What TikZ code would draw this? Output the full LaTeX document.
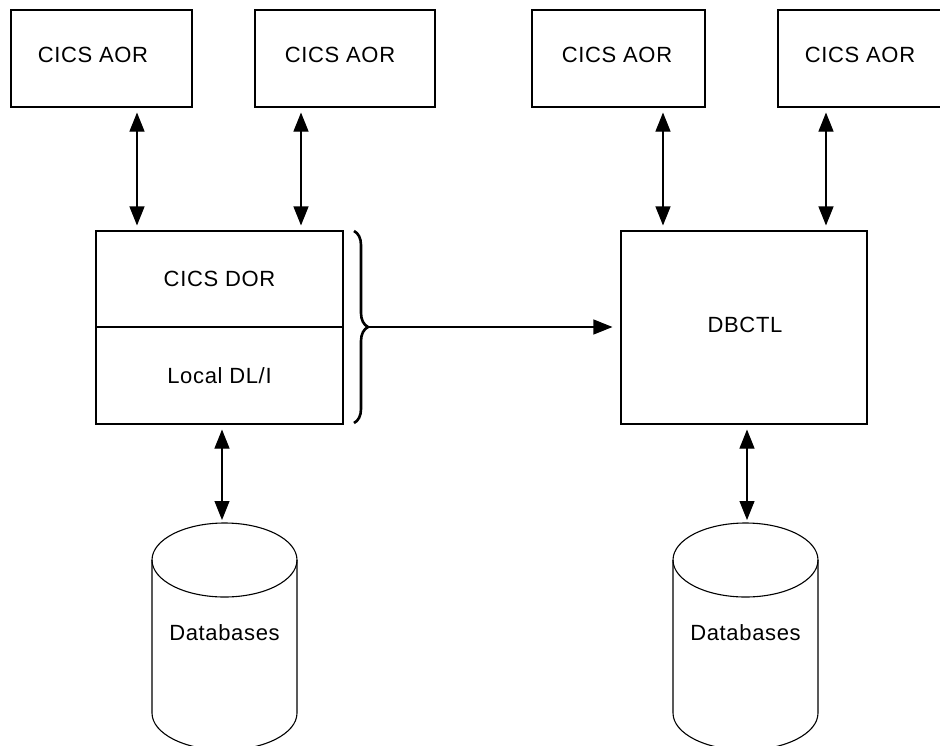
\documentclass[tikz,border=0pt]{standalone}
\usepackage{fontspec}
\setmainfont{Liberation Sans}[LetterSpace=3]
\usetikzlibrary{arrows.meta,decorations.pathreplacing}
\begin{document}
\begin{tikzpicture}[x=1pt,y=-1pt,
  lbl/.style={font=\fontsize{22}{26}\selectfont, inner sep=0pt},
  box/.style={draw, line width=1.1pt, inner sep=0pt, font=\fontsize{22}{26}\selectfont},
  conn/.style={line width=1.1pt, {Triangle[length=19pt,width=15pt]}-{Triangle[length=19pt,width=15pt]}, shorten <=5pt, shorten >=5pt},
  oneway/.style={line width=1.1pt, -{Triangle[length=19pt,width=15pt]}, shorten >=8pt},
  cyl/.style={line width=1.1pt}]
\useasboundingbox (0,0) rectangle (940,745);
% top boxes
\node[box, minimum width=181pt, minimum height=97pt] (aor1) at (101.5,58.5) {};
\node[lbl] (aor1txt) at (93,55) {CICS AOR};
\node[box, minimum width=180pt, minimum height=97pt] (aor2) at (345,58.5) {};
\node[lbl] (aor2txt) at (340,55) {CICS AOR};
\node[box, minimum width=173pt, minimum height=97pt] (aor3) at (618.5,58.5) {};
\node[lbl] (aor3txt) at (617,55) {CICS AOR};
\node[box, minimum width=170pt, minimum height=97pt] (aor4) at (863,58.5) {};
\node[lbl] (aor4txt) at (860,55) {CICS AOR};
% DOR
\node[box, minimum width=247pt, minimum height=96pt] (dor) at (219.5,279) {CICS DOR};
\node[box, minimum width=247pt, minimum height=97pt] (dli) at (219.5,375.5) {Local DL/I};
% DBCTL
\node[box, minimum width=246pt, minimum height=193pt] (dbctl) at (744,327.5) {};
\node[lbl] (dbctltxt) at (745,325) {DBCTL};
% x guides
\coordinate (g1) at (137,0);
\coordinate (g2) at (301,0);
\coordinate (g3) at (663,0);
\coordinate (g4) at (826,0);
% arrows from AORs
\draw[conn] (aor1.south -| g1) -- (dor.north -| g1);
\draw[conn] (aor2.south -| g2) -- (dor.north -| g2);
\draw[conn] (aor3.south -| g3) -- (dbctl.north -| g3);
\draw[conn] (aor4.south -| g4) -- (dbctl.north -| g4);
% brace
\draw[line width=2.6pt, decorate, decoration={brace, amplitude=14pt}] (354,231) -- (354,423);
\coordinate (bracetip) at (369,327);
\draw[oneway] (bracetip) -- (dbctl.west |- bracetip);
% cylinders
\draw[cyl] (224.5,560) ellipse [x radius=72.5pt, y radius=37pt];
\draw[cyl] (152,560) -- (152,713) arc[start angle=180, end angle=360, x radius=72.5pt, y radius=37pt] -- (297,560);
\node[lbl] (db1) at (224.5,633) {Databases};
\coordinate (db1top) at (222,525);
\draw[cyl] (745.5,560) ellipse [x radius=72.5pt, y radius=37pt];
\draw[cyl] (673,560) -- (673,713) arc[start angle=180, end angle=360, x radius=72.5pt, y radius=37pt] -- (818,560);
\node[lbl] (db2) at (745.5,633) {Databases};
\coordinate (db2top) at (747,525);
\draw[conn] (dli.south -| db1top) -- (db1top);
\draw[conn] (dbctl.south -| db2top) -- (db2top);
\end{tikzpicture}
\end{document}
